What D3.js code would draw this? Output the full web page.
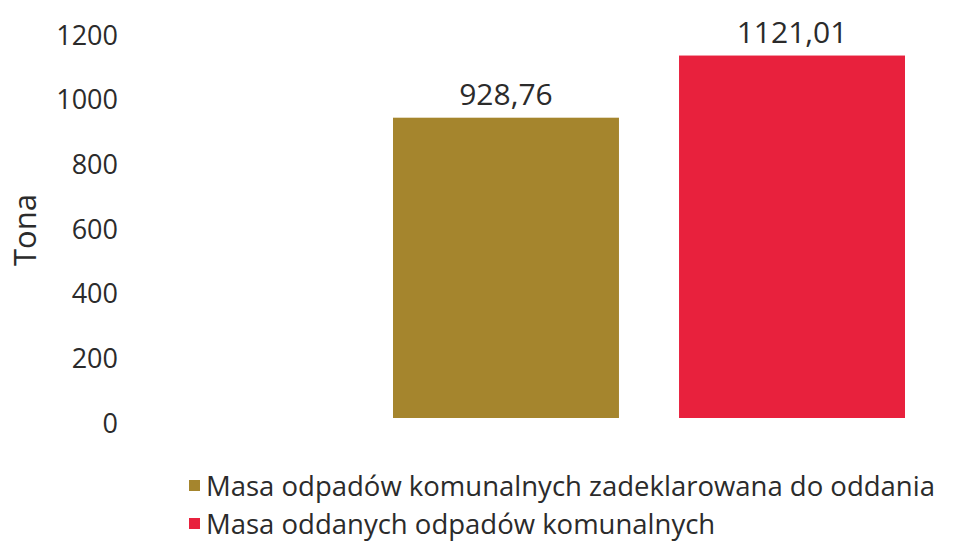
<!DOCTYPE html>
<html>
<head>
<meta charset="utf-8">
<script src="https://cdn.jsdelivr.net/npm/d3@7"></script>
<style>
  body { margin: 0; background: #fff; }
  svg text { font-family: "Open Sans", sans-serif; fill: #2b2b2b; }
</style>
</head>
<body>
<div id="chart"></div>
<script>
// chart data
const series = ['Masa odpadów komunalnych zadeklarowana do oddania', 'Masa oddanych odpadów komunalnych'];
const values = [928.76, 1121.01];
const labels = ['928,76', '1121,01'];
const yTicks = [0, 200, 400, 600, 800, 1000, 1200];
const colors = ['#a5852d', '#e8213d'];

const width = 960, height = 544;

const svg = d3.select('#chart').append('svg')
  .attr('width', width)
  .attr('height', height);

// scales
const x = d3.scaleBand().domain(series).range([393, 905]).paddingInner(0.21);
const y = d3.scaleLinear().domain([0, 1200]).range([418, 30]);

// y axis (labels only)
const yAxis = svg.append('g')
  .attr('transform', 'translate(118,0)')
  .call(d3.axisLeft(y).tickValues(yTicks).tickSize(0).tickPadding(0).tickFormat(d3.format('d')));
yAxis.select('.domain').remove();
yAxis.selectAll('text')
  .attr('dy', '0.52em')
  .style('font-size', '27px')
  .style('font-family', '"Open Sans", sans-serif')
  .attr('fill', '#2b2b2b');

svg.append('text')
  .attr('transform', 'translate(36,230) rotate(-90)')
  .attr('text-anchor', 'middle')
  .style('font-size', '31px')
  .text('Tona');

// bars
svg.append('g').selectAll('rect')
  .data(values)
  .join('rect')
  .attr('x', (d, i) => x(series[i]))
  .attr('width', x.bandwidth())
  .attr('y', d => y(d))
  .attr('height', d => y(0) - y(d))
  .attr('fill', (d, i) => colors[i]);

// value labels
svg.append('g').selectAll('text')
  .data(values)
  .join('text')
  .attr('x', (d, i) => x(series[i]) + x.bandwidth() / 2)
  .attr('y', d => y(d) - 13)
  .attr('text-anchor', 'middle')
  .style('font-size', '30px')
  .text((d, i) => labels[i]);

// legend
const legend = svg.append('g').selectAll('g')
  .data(series)
  .join('g')
  .attr('transform', (d, i) => `translate(189,${486 + i * 38})`);

legend.append('rect')
  .attr('x', 0).attr('y', -6)
  .attr('width', 11).attr('height', 11)
  .attr('fill', (d, i) => colors[i]);

legend.append('text')
  .attr('x', 17)
  .attr('dy', '0.35em')
  .style('font-size', '27.5px')
  .text(d => d);
</script>
</body>
</html>
